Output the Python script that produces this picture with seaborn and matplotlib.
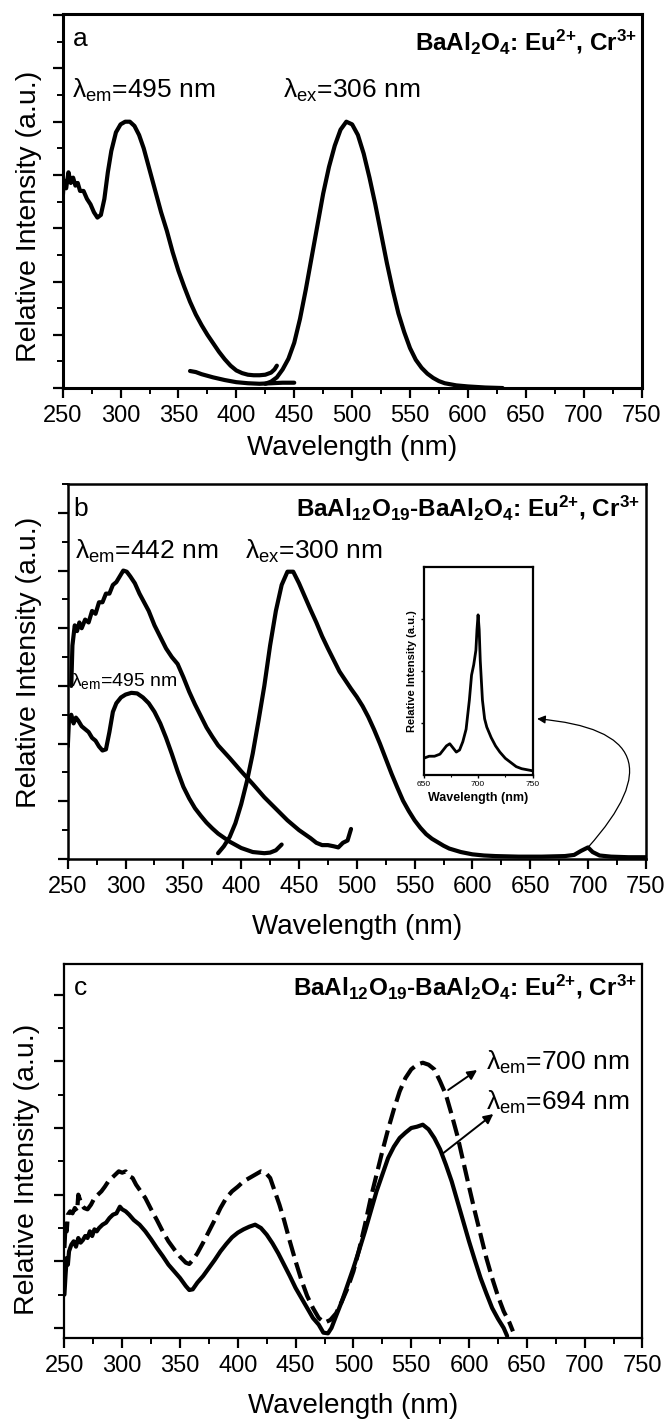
import matplotlib
matplotlib.use('Agg')
import matplotlib.pyplot as plt
from matplotlib.ticker import MultipleLocator, FixedLocator
import seaborn as sns

# ---- panel a: BaAl2O4: Eu2+, Cr3+ ----
a_ex_nm = [250, 251, 253, 255, 257, 259, 261, 263, 265, 268, 271, 274, 277, 280, 283, 286,
           289, 292, 296, 300, 304, 308, 312, 316, 320, 325, 330, 335, 340, 345, 350, 355,
           360, 365, 370, 375, 380, 385, 390, 395, 400, 405, 410, 415, 420, 425, 430, 433, 435]
a_ex_int = [3.55, 3.9, 3.75, 4.05, 3.85, 3.95, 3.8, 3.85, 3.7, 3.7, 3.55, 3.45, 3.3, 3.2, 3.25, 3.55,
            4.05, 4.45, 4.8, 4.95, 5.0, 5.0, 4.92, 4.75, 4.5, 4.1, 3.7, 3.3, 2.95, 2.55, 2.2, 1.9,
            1.62, 1.38, 1.18, 1.0, 0.84, 0.68, 0.54, 0.42, 0.33, 0.28, 0.25, 0.24, 0.24, 0.25, 0.29, 0.35, 0.42]
a_low_nm = [360, 365, 370, 380, 390, 400, 410, 420, 430, 440, 450]
a_low_int = [0.32, 0.3, 0.26, 0.2, 0.15, 0.11, 0.09, 0.08, 0.09, 0.1, 0.1]
a_em_nm = [425, 430, 435, 440, 445, 450, 455, 460, 465, 470, 475, 480, 485, 490, 495, 500, 505,
           510, 515, 520, 525, 530, 535, 540, 545, 550, 555, 560, 565, 570, 575, 580, 590, 600, 615, 630]
a_em_int = [0.08, 0.12, 0.2, 0.35, 0.55, 0.85, 1.3, 1.85, 2.45, 3.05, 3.65, 4.15, 4.55, 4.85, 5.0, 4.95, 4.75,
            4.4, 3.95, 3.45, 2.9, 2.35, 1.85, 1.4, 1.05, 0.75, 0.53, 0.38, 0.27, 0.19, 0.13, 0.09, 0.05, 0.03, 0.01, 0.0]

# ---- panel b: BaAl12O19-BaAl2O4: Eu2+, Cr3+ ----
b_ex442_nm = [253, 254, 256, 258, 260, 262, 265, 268, 271, 274, 277, 280, 283, 286, 289, 292, 295,
              298, 301, 304, 308, 312, 316, 320, 325, 330, 335, 340, 345, 350, 355, 360, 365, 370,
              375, 380, 390, 400, 410, 420, 430, 440, 450, 460, 465, 470, 475, 480, 484, 488, 492, 495]
b_ex442_int = [3.0, 3.7, 4.05, 3.95, 4.1, 4.0, 4.15, 4.1, 4.3, 4.25, 4.45, 4.45, 4.6, 4.6, 4.75, 4.8, 4.9,
               5.0, 4.98, 4.9, 4.78, 4.6, 4.45, 4.3, 4.05, 3.85, 3.65, 3.5, 3.38, 3.15, 2.9, 2.68, 2.48, 2.28,
               2.12, 1.97, 1.75, 1.52, 1.3, 1.07, 0.87, 0.67, 0.5, 0.36, 0.28, 0.24, 0.24, 0.22, 0.2, 0.28, 0.32, 0.52]
b_ex495_nm = [250, 251, 253, 255, 257, 259, 262, 265, 268, 271, 274, 277, 280, 283, 286, 289, 292,
              296, 300, 305, 310, 315, 320, 325, 330, 335, 340, 345, 350, 355, 360, 365, 370, 375,
              380, 390, 400, 410, 420, 425, 430, 435]
b_ex495_int = [1.95, 2.4, 2.5, 2.35, 2.45, 2.4, 2.3, 2.25, 2.2, 2.1, 2.05, 1.95, 1.88, 1.9, 2.2, 2.55, 2.7,
               2.8, 2.85, 2.88, 2.87, 2.8, 2.7, 2.55, 2.35, 2.1, 1.82, 1.52, 1.25, 1.05, 0.88, 0.75, 0.63, 0.53,
               0.44, 0.3, 0.19, 0.12, 0.1, 0.11, 0.15, 0.25]
b_em_nm = [380, 385, 390, 395, 400, 405, 410, 415, 420, 425, 430, 435, 440, 445, 450, 455, 460, 465,
           470, 475, 480, 485, 490, 495, 500, 505, 510, 515, 520, 525, 530, 535, 540, 545, 550, 555,
           560, 565, 570, 575, 580, 590, 600, 610, 620, 640, 660, 680, 688, 694, 700, 704, 710, 720, 735, 750]
b_em_int = [0.1, 0.22, 0.38, 0.62, 0.95, 1.35, 1.83, 2.4, 3.0, 3.7, 4.3, 4.75, 4.98, 4.98, 4.78, 4.55, 4.32, 4.1,
            3.86, 3.65, 3.45, 3.25, 3.1, 2.95, 2.81, 2.65, 2.46, 2.24, 2.0, 1.74, 1.48, 1.24, 1.01, 0.83, 0.67, 0.54,
            0.43, 0.35, 0.29, 0.23, 0.18, 0.12, 0.08, 0.06, 0.05, 0.04, 0.04, 0.05, 0.07, 0.14, 0.2, 0.12, 0.06, 0.04, 0.03, 0.03]
inset_nm = [650, 655, 660, 665, 668, 671, 674, 677, 680, 683, 686, 689, 692, 694, 696, 698, 699,
            700, 701, 702, 704, 706, 708, 712, 716, 720, 725, 730, 735, 740, 745, 750]
inset_int = [0.08, 0.09, 0.09, 0.1, 0.12, 0.14, 0.15, 0.13, 0.11, 0.12, 0.16, 0.22, 0.36, 0.48, 0.53, 0.6, 0.7,
             0.77, 0.7, 0.55, 0.36, 0.27, 0.23, 0.18, 0.14, 0.11, 0.08, 0.06, 0.04, 0.03, 0.025, 0.02]

# ---- panel c: excitation monitored at 700 nm (dashed) and 694 nm (solid) ----
c700_nm = [250, 251, 252, 253, 255, 257, 259, 261, 262, 263, 265, 267, 270, 273, 276, 279, 282, 285,
           288, 291, 294, 297, 300, 303, 306, 309, 312, 316, 320, 325, 330, 335, 340, 345, 350, 355,
           358, 361, 365, 370, 375, 380, 385, 390, 395, 400, 405, 410, 415, 420, 424, 428, 432, 436,
           440, 445, 450, 455, 460, 465, 470, 475, 480, 485, 490, 495, 500, 505, 510, 515, 520, 525,
           530, 535, 540, 545, 550, 555, 560, 565, 570, 575, 580, 585, 590, 595, 600, 605, 610, 615,
           620, 625, 630, 635, 638]
c700_int = [1.2, 1.55, 1.45, 1.7, 1.75, 1.72, 1.8, 1.75, 2.0, 1.95, 1.85, 1.8, 1.78, 1.85, 1.95, 2.0, 2.05, 2.12,
            2.2, 2.25, 2.3, 2.35, 2.33, 2.35, 2.28, 2.25, 2.15, 2.05, 1.95, 1.78, 1.62, 1.45, 1.3, 1.18, 1.07, 0.98,
            0.96, 1.02, 1.12, 1.28, 1.45, 1.62, 1.8, 1.95, 2.05, 2.12, 2.2, 2.25, 2.3, 2.35, 2.33, 2.25, 2.05, 1.85,
            1.62, 1.3, 1.0, 0.72, 0.48, 0.3, 0.15, 0.08, 0.12, 0.22, 0.4, 0.6, 0.85, 1.18, 1.55, 1.95, 2.3, 2.65,
            2.98, 3.28, 3.55, 3.75, 3.88, 3.95, 3.98, 3.95, 3.88, 3.7, 3.5, 3.2, 2.88, 2.5, 2.12, 1.75, 1.4, 1.05,
            0.75, 0.48, 0.25, 0.08, -0.05]
c694_nm = [250, 251, 252, 253, 254, 256, 258, 260, 262, 264, 266, 268, 270, 272, 274, 276, 278, 280,
           283, 286, 289, 292, 295, 298, 300, 303, 306, 310, 315, 320, 325, 330, 335, 340, 345, 350,
           355, 358, 361, 365, 370, 375, 380, 385, 390, 395, 400, 405, 410, 415, 420, 425, 430, 435,
           440, 445, 450, 455, 460, 465, 470, 474, 478, 481, 485, 490, 495, 500, 505, 510, 515, 520,
           525, 530, 535, 540, 545, 550, 555, 560, 565, 570, 575, 580, 585, 590, 595, 600, 605, 610,
           615, 620, 625, 630, 633]
c694_int = [0.5, 0.8, 1.05, 0.95, 1.15, 1.25, 1.3, 1.22, 1.35, 1.28, 1.32, 1.38, 1.35, 1.45, 1.38, 1.48, 1.45, 1.5,
            1.55, 1.58, 1.65, 1.7, 1.72, 1.82, 1.78, 1.75, 1.7, 1.62, 1.55, 1.45, 1.33, 1.2, 1.08, 0.95, 0.85, 0.75,
            0.63, 0.57, 0.58, 0.68, 0.78, 0.9, 1.02, 1.15, 1.26, 1.36, 1.43, 1.48, 1.52, 1.55, 1.5, 1.4, 1.27, 1.12,
            0.95, 0.78, 0.6, 0.45, 0.3, 0.15, 0.05, -0.07, -0.08, 0.0, 0.18, 0.4, 0.65, 0.9, 1.17, 1.45, 1.75, 2.05,
            2.3, 2.55, 2.72, 2.85, 2.93, 3.0, 3.02, 3.05, 2.98, 2.85, 2.68, 2.45, 2.2, 1.9, 1.6, 1.3, 1.02, 0.75,
            0.52, 0.3, 0.14, 0.0, -0.12]

# braces around "+" keep mathtext from spacing it like a binary operator
formula_a = 'BaAl$_2$O$_4$: Eu$^{2{+}}$, Cr$^{3{+}}$'
formula_bc = 'BaAl$_{12}$O$_{19}$-BaAl$_2$O$_4$: Eu$^{2{+}}$, Cr$^{3{+}}$'

sns.set_style('ticks')
plt.rcParams['font.family'] = ['Liberation Sans', 'DejaVu Sans']
plt.rcParams['mathtext.fontset'] = 'custom'
plt.rcParams['mathtext.rm'] = 'Liberation Sans'
plt.rcParams['mathtext.it'] = 'Liberation Sans:italic'
plt.rcParams['mathtext.bf'] = 'Liberation Sans:bold'
plt.rcParams['mathtext.default'] = 'regular'
for key in ['text.color', 'axes.labelcolor', 'xtick.color', 'ytick.color', 'axes.edgecolor']:
    plt.rcParams[key] = 'black'

fig = plt.figure(figsize=(6.64, 14.24), dpi=100)
ax_a = fig.add_axes([0.0944, 0.7275, 0.8718, 0.2626])
ax_b = fig.add_axes([0.1021, 0.3968, 0.8705, 0.2633])
ax_c = fig.add_axes([0.0970, 0.0604, 0.8705, 0.2626])

LW = 3.0
TXT = 19


def style_axis(ax, ylim, spine_w, label_xy, xpad):
    ax.set_xlim(250, 750)
    ax.set_ylim(*ylim)
    ax.xaxis.set_major_locator(MultipleLocator(50))
    ax.xaxis.set_minor_locator(MultipleLocator(25))
    ax.yaxis.set_major_locator(MultipleLocator(1))
    ax.yaxis.set_minor_locator(MultipleLocator(0.5))
    ax.tick_params(which='major', direction='out', length=7, width=1.6, labelsize=17, pad=5,
                   top=False, right=False, labelleft=False)
    ax.tick_params(which='minor', direction='out', length=4, width=1.4, top=False, right=False)
    for s in ax.spines.values():
        s.set_linewidth(spine_w)
    ax.set_xlabel('Wavelength (nm)', fontsize=20, labelpad=xpad)
    ax.set_ylabel('Relative Intensity (a.u.)', fontsize=20.5)
    ax.yaxis.set_label_coords(*label_xy)


# panel a
sns.lineplot(x=a_ex_nm, y=a_ex_int, ax=ax_a, color='black', lw=LW, sort=False)
sns.lineplot(x=a_low_nm, y=a_low_int, ax=ax_a, color='black', lw=LW, sort=False)
sns.lineplot(x=a_em_nm, y=a_em_int, ax=ax_a, color='black', lw=LW, sort=False)
style_axis(ax_a, (0, 7.02), 2.2, (-0.036, 0.46), 6)
ax_a.text(259, 6.43, 'a', fontsize=19, ha='left', va='baseline')
ax_a.text(746, 6.34, formula_a, fontsize=17.5, fontweight='bold', ha='right', va='baseline')
ax_a.text(258, 5.44, 'λ$_{em}$=495 nm', fontsize=TXT, ha='left', va='baseline')
ax_a.text(440, 5.44, 'λ$_{ex}$=306 nm', fontsize=TXT, ha='left', va='baseline')

# panel b
sns.lineplot(x=b_ex442_nm, y=b_ex442_int, ax=ax_b, color='black', lw=LW, sort=False)
sns.lineplot(x=b_ex495_nm, y=b_ex495_int, ax=ax_b, color='black', lw=LW, sort=False)
sns.lineplot(x=b_em_nm, y=b_em_int, ax=ax_b, color='black', lw=LW, sort=False)
style_axis(ax_b, (0, 6.5), 1.8, (-0.045, 0.523), 12)
ax_b.text(255, 5.95, 'b', fontsize=19, ha='left', va='baseline')
ax_b.text(745, 5.95, formula_bc, fontsize=17.5, fontweight='bold', ha='right', va='baseline')
ax_b.text(256, 5.2, 'λ$_{em}$=442 nm', fontsize=TXT, ha='left', va='baseline')
ax_b.text(403, 5.2, 'λ$_{ex}$=300 nm', fontsize=TXT, ha='left', va='baseline')
ax_b.text(253, 3.0, 'λ$_{em}$=495 nm', fontsize=14, ha='left', va='baseline')

ax_in = fig.add_axes([0.638, 0.4558, 0.164, 0.146])
sns.lineplot(x=inset_nm, y=inset_int, ax=ax_in, color='black', lw=2.0, sort=False)
ax_in.set_xlim(650, 750)
ax_in.set_ylim(0, 1)
ax_in.xaxis.set_major_locator(FixedLocator([650, 700, 750]))
ax_in.xaxis.set_minor_locator(FixedLocator([675, 725]))
ax_in.yaxis.set_major_locator(FixedLocator([0.25, 0.5, 0.75]))
ax_in.tick_params(which='major', direction='out', length=2.5, width=1, labelsize=6, pad=2,
                  labelleft=False, top=False, right=False)
ax_in.tick_params(which='minor', direction='out', length=1.5, width=0.8, top=False, right=False)
for s in ax_in.spines.values():
    s.set_linewidth(1.6)
ax_in.set_xlabel('Wavelength (nm)', fontsize=9, fontweight='bold', labelpad=3)
ax_in.set_ylabel('Relative Intensity (a.u.)', fontsize=8, fontweight='bold', labelpad=2)

ax_b.annotate('', xy=(656, 2.43), xytext=(700, 0.2),
              arrowprops=dict(arrowstyle='-|>', lw=0.9, color='black', mutation_scale=12,
                              connectionstyle='arc3,rad=1.0', shrinkA=0, shrinkB=0))

# panel c
sns.lineplot(x=c700_nm, y=c700_int, ax=ax_c, color='black', lw=LW, sort=False,
             linestyle=(0, (4, 1.6)))
sns.lineplot(x=c694_nm, y=c694_int, ax=ax_c, color='black', lw=LW, sort=False)
style_axis(ax_c, (-0.15, 5.46), 1.6, (-0.042, 0.452), 12)
ax_c.text(258, 5.0, 'c', fontsize=19, ha='left', va='baseline')
ax_c.text(745, 5.0, formula_bc, fontsize=17.5, fontweight='bold', ha='right', va='baseline')
ax_c.text(615, 3.87, 'λ$_{em}$=700 nm', fontsize=TXT, ha='left', va='baseline')
ax_c.text(615, 3.27, 'λ$_{em}$=694 nm', fontsize=TXT, ha='left', va='baseline')
ax_c.annotate('', xy=(607, 3.87), xytext=(582, 3.57),
              arrowprops=dict(arrowstyle='-|>', lw=1.4, color='black', mutation_scale=14,
                              shrinkA=0, shrinkB=0))
ax_c.annotate('', xy=(621, 3.21), xytext=(577.5, 2.62),
              arrowprops=dict(arrowstyle='-|>', lw=1.4, color='black', mutation_scale=14,
                              shrinkA=0, shrinkB=0))

fig.savefig('out.png', dpi=100, facecolor='white')
